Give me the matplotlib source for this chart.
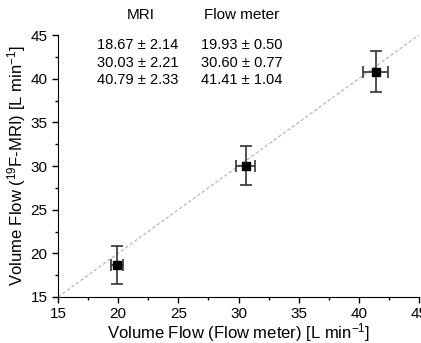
import matplotlib.pyplot as plt
from matplotlib.ticker import MultipleLocator

plt.rcParams['font.family'] = ['Liberation Sans', 'DejaVu Sans']
plt.rcParams['mathtext.fontset'] = 'custom'
plt.rcParams['mathtext.rm'] = 'Liberation Sans'
plt.rcParams['mathtext.it'] = 'Liberation Sans'

# measured values
flow_meter = [19.93, 30.60, 41.41]
flow_meter_err = [0.50, 0.77, 1.04]
mri = [18.67, 30.03, 40.79]
mri_err = [2.14, 2.21, 2.33]

W, H = 421, 343
fig = plt.figure(figsize=(W / 100, H / 100), dpi=100)
ax = fig.add_axes([58 / W, 46 / H, 361 / W, 262 / H])

# identity line
ax.plot([15, 45], [15, 45], ls=(0, (3, 2)), color='#b0b0b0', lw=0.8, zorder=1)

ax.errorbar(flow_meter, mri, xerr=flow_meter_err, yerr=mri_err, fmt='s',
            color='black', ms=6, ecolor='#333333', elinewidth=1.2, capsize=4,
            capthick=1.2, zorder=3)

ax.set_xlim(15, 45)
ax.set_ylim(15, 45)
ax.xaxis.set_major_locator(MultipleLocator(5))
ax.yaxis.set_major_locator(MultipleLocator(5))
ax.xaxis.set_minor_locator(MultipleLocator(2.5))
ax.yaxis.set_minor_locator(MultipleLocator(2.5))
ax.tick_params(which='major', direction='out', length=4, width=1, labelsize=11)
ax.tick_params(which='minor', direction='out', length=2.5, width=1)
ax.spines['top'].set_visible(False)
ax.spines['right'].set_visible(False)

ax.set_xlabel(r'Volume Flow (Flow meter) [L min$\mathregular{^{-1}}$]', fontsize=12, labelpad=0)
ax.set_ylabel(r'Volume Flow ($\mathregular{^{19}}$F-MRI) [L min$\mathregular{^{-1}}$]',
              fontsize=12, labelpad=2)

# summary table
fig.text(141 / W, 1 - 15 / H, 'MRI', ha='center', va='center', fontsize=11)
fig.text(242 / W, 1 - 15 / H, 'Flow meter', ha='center', va='center', fontsize=11)
row_y = [45, 63, 80]
for i in range(3):
    fig.text(138 / W, 1 - row_y[i] / H, f'{mri[i]:.2f} ± {mri_err[i]:.2f}',
             ha='center', va='center', fontsize=10.5)
    fig.text(242 / W, 1 - row_y[i] / H, f'{flow_meter[i]:.2f} ± {flow_meter_err[i]:.2f}',
             ha='center', va='center', fontsize=10.5)

fig.savefig('out.png', dpi=100)
